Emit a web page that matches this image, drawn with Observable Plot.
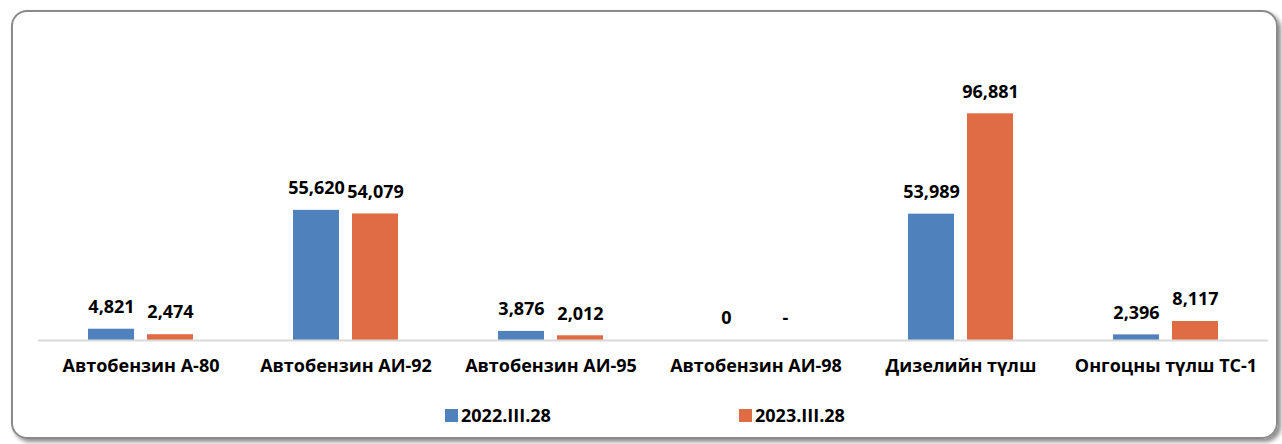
<!DOCTYPE html>
<html>
<head>
<meta charset="utf-8">
<script src="https://cdn.jsdelivr.net/npm/d3@7"></script>
<script src="https://cdn.jsdelivr.net/npm/@observablehq/plot@0.6"></script>
<style>
  body { margin:0; background:#fff; width:1282px; height:444px; overflow:hidden; position:relative; font-family:"Open Sans", sans-serif; }
  #frame { position:absolute; left:11px; top:10px; width:1267px; height:429px; box-sizing:border-box; border:2px solid #8a8a8a; border-radius:16px; box-shadow:3px 3px 4px rgba(0,0,0,0.45); }
  #chart { position:absolute; left:0; top:0; }
  #legend { position:absolute; top:403px; left:0; width:1282px; height:24px; }
  .item { position:absolute; top:0; display:flex; align-items:center; font-size:18px; font-weight:700; color:#000; }
  .sw { width:13px; height:13px; margin-right:3px; }
</style>
</head>
<body>
<div id="frame"></div>
<div id="chart"></div>
<div id="legend"></div>
<script>
const categories = ["Автобензин А-80", "Автобензин АИ-92", "Автобензин АИ-95", "Автобензин АИ-98", "Дизелийн түлш", "Онгоцны түлш ТС-1"];
const series = ["2022.III.28", "2023.III.28"];
const values2022 = [4821, 55620, 3876, 0, 53989, 2396];
const values2023 = [2474, 54079, 2012, null, 96881, 8117];
const colors = ["#4f81bd", "#e06c46"];

const data = [];
categories.forEach((c, i) => {
  data.push({cat: c, series: series[0], value: values2022[i]});
  data.push({cat: c, series: series[1], value: values2023[i]});
});
const fmt = d3.format(",");

const chart = Plot.plot({
  width: 1282,
  height: 380,
  marginLeft: 37,
  marginRight: 14,
  marginTop: 106,
  marginBottom: 40,
  style: {fontFamily: "'Open Sans', sans-serif", fontSize: "18px", fontWeight: 700, background: "transparent", color: "#000", overflow: "visible"},
  fx: {domain: categories, padding: 0, label: null, axis: "bottom", tickSize: 0, tickPadding: 19},
  x: {domain: series, paddingInner: 0.22, paddingOuter: 0.847, axis: null},
  y: {domain: [0, 100000], axis: null},
  color: {domain: series, range: colors},
  marks: [
    Plot.barY(data, {fx: "cat", x: "series", y: "value", fill: "series"}),
    Plot.ruleY([0], {stroke: "#d9d9d9", strokeWidth: 2}),
    Plot.text(data, {fx: "cat", x: "series", y: d => d.value ?? 0, text: d => d.value == null ? "-" : fmt(d.value), dy: -22, fill: "#000", fontSize: 18, fontWeight: 700})
  ]
});
document.getElementById("chart").appendChild(chart);

const legend = document.getElementById("legend");
const lx = [445, 739];
series.forEach((s, i) => {
  const it = document.createElement("div");
  it.className = "item";
  it.style.left = lx[i] + "px";
  const sw = document.createElement("span");
  sw.className = "sw";
  sw.style.background = colors[i];
  const t = document.createElement("span");
  t.textContent = s;
  it.appendChild(sw); it.appendChild(t);
  legend.appendChild(it);
});
</script>
</body>
</html>
